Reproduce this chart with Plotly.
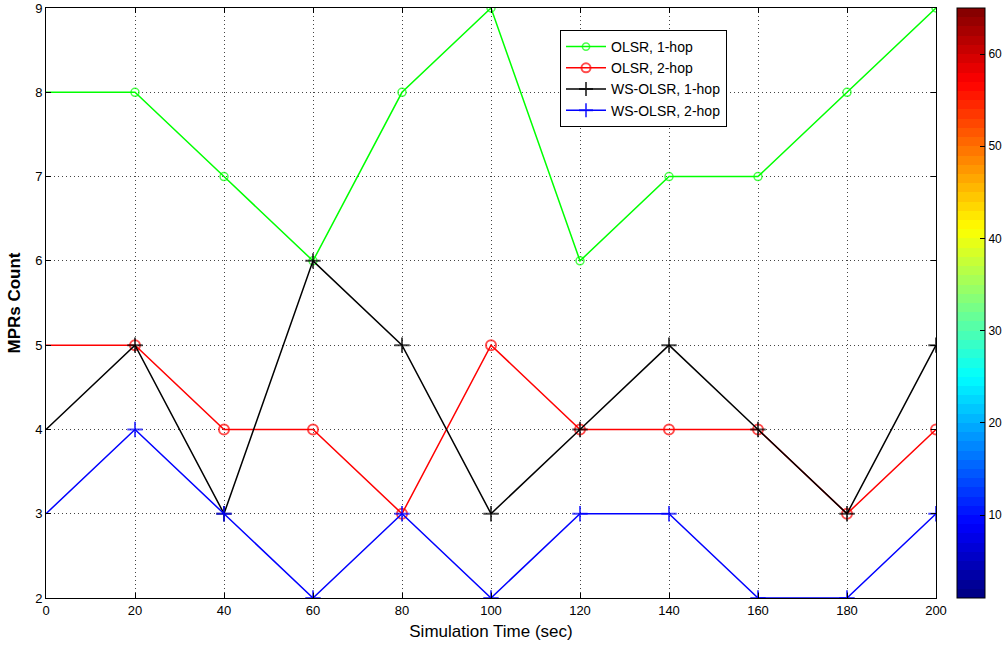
import plotly.graph_objects as go

time_sec = [0, 20, 40, 60, 80, 100, 120, 140, 160, 180, 200]
olsr_1hop = [8, 8, 7, 6, 8, 9, 6, 7, 7, 8, 9]
olsr_2hop = [5, 5, 4, 4, 3, 5, 4, 4, 4, 3, 4]
ws_olsr_1hop = [4, 5, 3, 6, 5, 3, 4, 5, 4, 3, 5]
ws_olsr_2hop = [3, 4, 3, 2, 3, 2, 3, 3, 2, 2, 3]
x_ticks = [0, 20, 40, 60, 80, 100, 120, 140, 160, 180, 200]
y_ticks = [2, 3, 4, 5, 6, 7, 8, 9]
cbar_ticks = [10, 20, 30, 40, 50, 60]

# MATLAB jet colormap, 64 steps
def jet(n=64):
    cols = []
    for i in range(n):
        v = (i + 0.5) / n * 4
        r = min(max(min(v - 1.5, -v + 4.5), 0), 1)
        g = min(max(min(v - 0.5, -v + 3.5), 0), 1)
        b = min(max(min(v + 0.5, -v + 2.5), 0), 1)
        cols.append("rgb(%d,%d,%d)" % (r * 255, g * 255, b * 255))
    cs = []
    for i, c in enumerate(cols):
        cs.append([i / n, c])
        cs.append([(i + 1) / n, c])
    return cs

font = "Liberation Sans, Arial, sans-serif"
fig = go.Figure()

def msizes(s):
    return [0] + [s] * (len(time_sec) - 1)

fig.add_trace(go.Scatter(x=time_sec, y=olsr_1hop, mode="lines+markers", name="OLSR, 1-hop",
                         line=dict(color="#00ff00", width=1.5),
                         marker=dict(symbol="circle-open", size=msizes(8), color="#00ff00", line=dict(width=1.5))))
fig.add_trace(go.Scatter(x=time_sec, y=olsr_2hop, mode="lines+markers", name="OLSR, 2-hop",
                         line=dict(color="#ff0000", width=1.5),
                         marker=dict(symbol="circle-open", size=msizes(10), color="#ff0000", line=dict(width=2))))
fig.add_trace(go.Scatter(x=time_sec, y=ws_olsr_1hop, mode="lines+markers", name="WS-OLSR, 1-hop",
                         line=dict(color="#000000", width=1.5),
                         marker=dict(symbol="cross-thin-open", size=msizes(11), color="#000000", line=dict(width=2, color="#000000"))))
fig.add_trace(go.Scatter(x=time_sec, y=ws_olsr_2hop, mode="lines+markers", name="WS-OLSR, 2-hop",
                         line=dict(color="#0000ff", width=1.5),
                         marker=dict(symbol="cross-thin-open", size=msizes(11), color="#0000ff", line=dict(width=2, color="#0000ff"))))

plot_l, plot_r = 46, 936
cb_x = (957 - plot_l) / (plot_r - plot_l)

# colorbar-only trace
fig.add_trace(go.Scatter(x=[None], y=[None], mode="markers", showlegend=False, hoverinfo="skip",
                         marker=dict(color=[1], cmin=1, cmax=65, colorscale=jet(), showscale=True,
                                     colorbar=dict(x=cb_x, xanchor="left", xref="paper",
                                                   y=0, yanchor="bottom", yref="paper",
                                                   len=1, lenmode="fraction",
                                                   thickness=28, thicknessmode="pixels",
                                                   outlinecolor="black", outlinewidth=1,
                                                   tickvals=cbar_ticks, ticks="inside", ticklen=5,
                                                   tickcolor="black",
                                                   tickfont=dict(family=font, size=12, color="black"),
                                                   xpad=0, ypad=0))))

axis_common = dict(showline=True, linecolor="black", linewidth=1, mirror="ticks",
                   ticks="inside", ticklen=5, tickcolor="black",
                   showgrid=True, gridcolor="#444444", griddash="1px,3px", gridwidth=1,
                   zeroline=False, tickfont=dict(family=font, size=13, color="black"))

fig.update_layout(
    width=1003, height=650,
    margin=dict(l=plot_l, r=1003 - plot_r, t=8, b=52, autoexpand=False),
    plot_bgcolor="white", paper_bgcolor="white",
    xaxis=dict(range=[0, 200], tickvals=x_ticks, **axis_common,
               title=dict(text="Simulation Time (sec)", font=dict(family=font, size=17, color="black"), standoff=8)),
    yaxis=dict(range=[2, 9], tickvals=y_ticks, **axis_common,
               title=dict(text="<b>MPRs Count</b>", font=dict(family=font, size=17, color="black"), standoff=10)),
    legend=dict(x=(560 - plot_l) / (plot_r - plot_l), y=1 - (30 - 8) / 590, xanchor="left", yanchor="top",
                bordercolor="black", borderwidth=1, bgcolor="white",
                font=dict(family=font, size=14, color="black"),
                tracegroupgap=0, itemwidth=40),
    showlegend=True,
)

fig.write_html("out.html")
